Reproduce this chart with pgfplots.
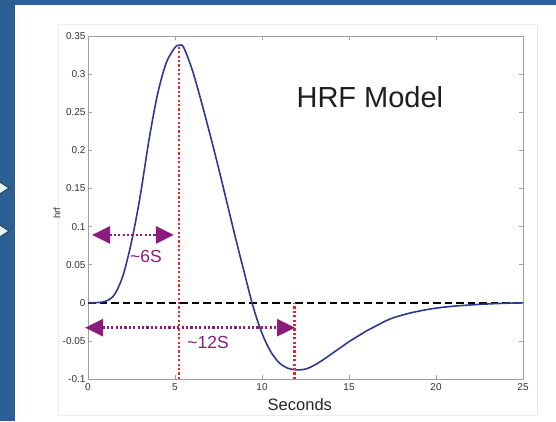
\documentclass[border=0pt]{standalone}
\usepackage{pgfplots}
\pgfplotsset{compat=1.18}
\usepackage{fontspec}
\setmainfont{Liberation Sans}
\usetikzlibrary{arrows.meta}
\definecolor{bg}{HTML}{2C5F94}
\definecolor{curve}{HTML}{2E3A92}
\definecolor{reddot}{HTML}{E3262B}
\definecolor{purp}{HTML}{8C1B7E}
\definecolor{axgray}{HTML}{A0A0A0}
\definecolor{txt}{HTML}{333333}
\begin{document}
\begin{tikzpicture}[x=1pt,y=1pt]
\useasboundingbox (0,0) rectangle (556,-421);
\fill[bg] (0,0) rectangle (556,-421);
\fill[white] (15,-5) rectangle (556,-421);
\draw[black!8, line width=0.8pt] (58,-24) rectangle (537,-415);
\fill[cyan!12, draw=black!80, line width=0.8pt] (-2,-181) -- (9,-188) -- (-2,-195) -- cycle;
\fill[cyan!12, draw=black!80, line width=0.8pt] (-2,-224) -- (9,-231) -- (-2,-238) -- cycle;
\begin{axis}[
  at={(88pt,-379pt)}, anchor=south west,
  scale only axis, width=435pt, height=343pt,
  xmin=0, xmax=25, ymin=-0.1, ymax=0.35,
  xtick={0,5,10,15,20,25},
  xticklabels={0,5,10,15,20,25},
  ytick={-0.1,-0.05,0,0.05,0.1,0.15,0.2,0.25,0.3,0.35},
  yticklabels={-0.1,-0.05,0,0.05,0.1,0.15,0.2,0.25,0.3,0.35},
  tick align=inside,
  major tick length=4pt,
  axis line style={draw=axgray, line width=0.8pt},
  tick style={draw=axgray, line width=0.6pt},
  tick label style={font=\fontsize{10}{12}\selectfont, text=txt},
  yticklabel style={xshift=1pt},
  xticklabel style={yshift=-1pt},
  xlabel={Seconds}, ylabel={hrf},
  xlabel style={at={(axis description cs:0.487,-0.0758)}, anchor=center, font=\fontsize{16.5}{19}\selectfont, text=black!85},
  ylabel style={at={(axis description cs:-0.0713,0.484)}, anchor=center, font=\fontsize{9.5}{11}\selectfont, text=txt},
  clip=false,
]
\addplot[black, line width=2.4pt, dash pattern=on 7.5pt off 4pt] coordinates {(0,0) (25,0)};
\addplot[curve, line width=1.6pt, smooth] coordinates {
(0,0) (0.5,0.0002) (1.0,0.002) (1.5,0.010) (2.0,0.035) (2.5,0.080) (3.0,0.140)
(3.5,0.213) (4.0,0.274) (4.5,0.315) (5.0,0.335) (5.25,0.338) (5.5,0.335)
(6.0,0.305) (6.5,0.265) (7.0,0.222) (7.5,0.177) (8.0,0.130) (8.5,0.083)
(9.0,0.038) (9.5,-0.006) (10.0,-0.040) (10.5,-0.064) (11.0,-0.079) (11.5,-0.086)
(12.0,-0.088) (12.5,-0.087) (13.0,-0.082) (13.5,-0.075) (14.0,-0.067) (14.5,-0.059)
(15.0,-0.051) (15.5,-0.044) (16.0,-0.037) (16.5,-0.031) (17.0,-0.025) (17.5,-0.020)
(18.0,-0.0165) (18.5,-0.0135) (19.0,-0.011) (19.5,-0.0088) (20.0,-0.007) (20.5,-0.0056)
(21.0,-0.0045) (21.5,-0.0036) (22.0,-0.0028) (22.5,-0.0021) (23.0,-0.0015) (23.5,-0.001)
(24.0,-0.0006) (24.5,-0.0003) (25.0,-0.0002)
};
\addplot[reddot, line width=2.6pt, dash pattern=on 2.2pt off 2.2pt] coordinates {(5.23,-0.1) (5.23,0.336)};
\addplot[reddot, line width=2.6pt, dash pattern=on 2.2pt off 2.2pt] coordinates {(11.86,-0.1) (11.86,0)};
\draw[purp, line width=2.6pt, dash pattern=on 2.2pt off 2.2pt, {Triangle[length=18pt,width=17pt]}-{Triangle[length=18pt,width=17pt]}] (axis cs:0.23,0.089) -- (axis cs:4.94,0.089);
\draw[purp, line width=2.6pt, dash pattern=on 2.2pt off 2.2pt, {Triangle[length=18pt,width=17pt]}-{Triangle[length=18pt,width=17pt]}] (axis cs:-0.17,-0.0327) -- (axis cs:11.9,-0.0327);
\node[text=purp, font=\fontsize{17.5}{20}\selectfont] at (axis cs:3.33,0.061) {\char`\~6S};
\node[text=purp, font=\fontsize{17.5}{20}\selectfont] at (axis cs:6.9,-0.052) {\char`\~12S};
\node[text=black!88, font=\fontsize{29}{34}\selectfont] at (axis cs:16.2,0.27) {HRF Model};
\end{axis}
\end{tikzpicture}
\end{document}
